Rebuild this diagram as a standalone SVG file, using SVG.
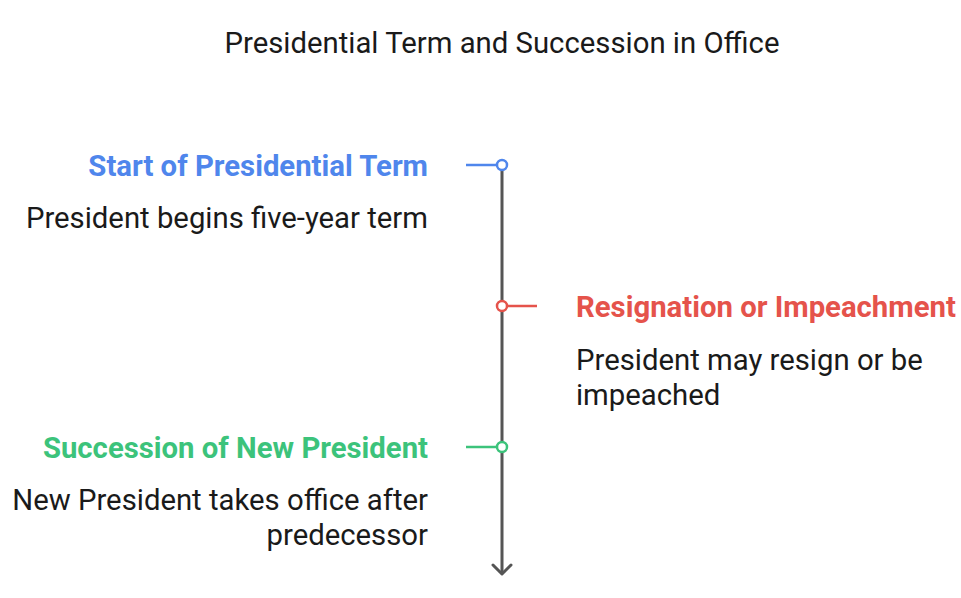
<svg xmlns="http://www.w3.org/2000/svg" width="961" height="598" viewBox="0 0 961 598">
<defs>
<style>
text{font-family:Roboto,"Liberation Sans",sans-serif;}
.title{font-size:29.3px;fill:#1a1a1a;}
.head{font-size:29.3px;font-weight:bold;}
.desc{font-size:29.3px;fill:#1a1a1a;}
.blue{fill:#4F86EC;}
.red{fill:#E5534B;}
.green{fill:#3CC37B;}
</style>
</defs>
<rect width="961" height="598" fill="#ffffff"/>
<text class="title" x="502" y="53" text-anchor="middle">Presidential Term and Succession in Office</text>
<g id="connectors">
<line x1="502" y1="170" x2="502" y2="574" stroke="#555555" stroke-width="3"/>
<polyline points="493,565 502,574 511,565" fill="none" stroke="#555555" stroke-width="3" stroke-linecap="round" stroke-linejoin="round"/>
<line x1="466" y1="165" x2="497" y2="165" stroke="#4F86EC" stroke-width="2.5"/>
<line x1="507" y1="306" x2="537" y2="306" stroke="#E5534B" stroke-width="2.5"/>
<line x1="466" y1="447" x2="497" y2="447" stroke="#3CC37B" stroke-width="2.5"/>
</g>
<g id="node-start">
<circle cx="502" cy="165" r="5" fill="#ffffff" stroke="#4F86EC" stroke-width="2.5"/>
<text class="head blue" x="428" y="176" text-anchor="end">Start of Presidential Term</text>
<text class="desc" x="428" y="228" text-anchor="end">President begins five-year term</text>
</g>
<g id="node-resign">
<circle cx="502" cy="306" r="5" fill="#ffffff" stroke="#E5534B" stroke-width="2.5"/>
<text class="head red" x="576" y="317">Resignation or Impeachment</text>
<text class="desc" x="576" y="370">President may resign or be</text>
<text class="desc" x="576" y="405">impeached</text>
</g>
<g id="node-succession">
<circle cx="502" cy="447" r="5" fill="#ffffff" stroke="#3CC37B" stroke-width="2.5"/>
<text class="head green" x="428" y="458" text-anchor="end">Succession of New President</text>
<text class="desc" x="428" y="510" text-anchor="end">New President takes office after</text>
<text class="desc" x="428" y="545" text-anchor="end">predecessor</text>
</g>
</svg>
